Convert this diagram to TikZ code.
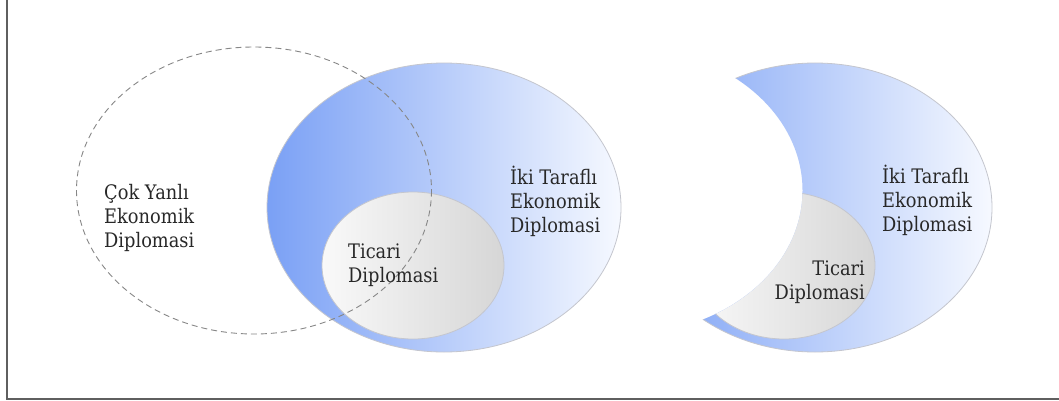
\documentclass[tikz,border=0pt]{standalone}
\usepackage{fontspec}
\setmainfont{DejaVu Serif}[FakeStretch=0.89]
\definecolor{bluedeep}{RGB}{122,160,245}
\definecolor{bluepale}{RGB}{246,249,255}
\definecolor{greylight}{RGB}{249,249,249}
\definecolor{greydark}{RGB}{214,214,214}
\definecolor{rimgrey}{RGB}{196,198,206}
\definecolor{dashgrey}{RGB}{135,135,135}
\definecolor{framegrey}{RGB}{95,95,95}
\definecolor{inkgrey}{RGB}{40,40,40}
\tikzset{
  bilateral/.style={left color=bluedeep, right color=bluepale, draw=rimgrey, line width=0.8pt},
  trade/.style={left color=greylight, right color=greydark, draw=rimgrey, line width=0.8pt},
  multilateral/.style={draw=dashgrey, line width=0.9pt, dash pattern=on 6pt off 4pt},
  label/.style={font=\fontsize{20}{24}\selectfont, text=inkgrey, inner sep=0pt},
}
\begin{document}
\begin{tikzpicture}[x=1pt,y=-1pt]
\useasboundingbox (0,0) rectangle (1059,401);
\fill[white] (0,0) rectangle (1059,401);
\draw[framegrey, line width=2pt] (7,-2) -- (7,399) -- (1062,399);

% left diagram: bilateral economic diplomacy overlapping the multilateral one
\path[bilateral] (444,207.5) ellipse [x radius=177, y radius=144.5];
\path[trade] (413,265.5) ellipse [x radius=91, y radius=73.5];
\draw[multilateral] (254,190.5) ellipse [x radius=177.5, y radius=143.5];

% labels are anchored at the baseline of their last line
\node[label, align=left, anchor=base west] (multi) at (104,247) {Çok Yanlı\\Ekonomik\\Diplomasi};
\node[label, align=left, anchor=base west] (bilatL) at (510,232) {İki Taraflı\\Ekonomik\\Diplomasi};
\node[label, align=left, anchor=base west] (tradeL) at (348,282) {Ticari\\Diplomasi};

% right diagram: the same shapes with the multilateral area cut away
\begin{scope}[even odd rule]
  \clip (0,0) rectangle (1059,401) (625,190.5) ellipse [x radius=177.5, y radius=143.5];
  \path[bilateral] (815,207.5) ellipse [x radius=177, y radius=144.5];
  \path[trade] (784,265.5) ellipse [x radius=91, y radius=73.5];
\end{scope}

\node[label, align=left, anchor=base west] (bilatR) at (882,231) {İki Taraflı\\Ekonomik\\Diplomasi};
\node[label, align=right, anchor=base east] (tradeR) at (865,299) {Ticari\\Diplomasi};
\end{tikzpicture}
\end{document}
